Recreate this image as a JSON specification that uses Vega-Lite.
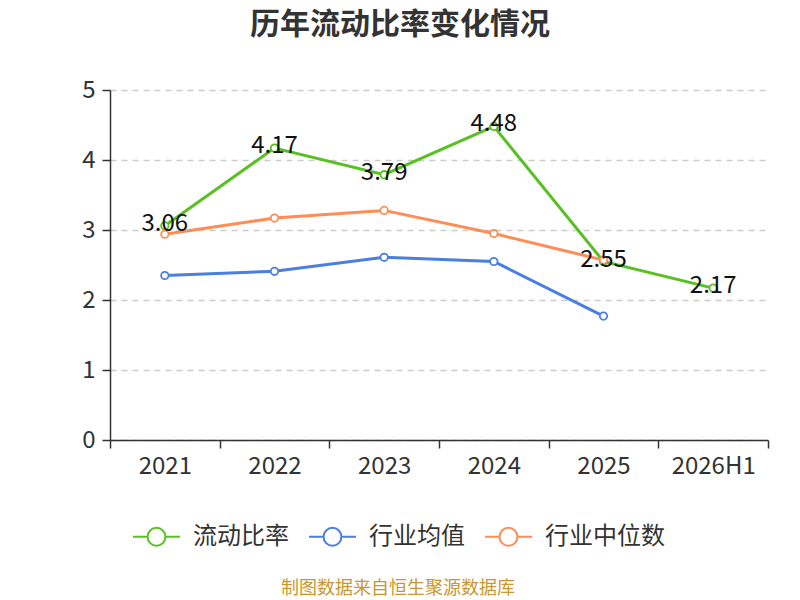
{
  "$schema": "https://vega.github.io/schema/vega-lite/v6.json",
  "width": 658,
  "height": 350,
  "autosize": {"type": "none"},
  "padding": {"left": 110, "top": 90, "right": 32, "bottom": 160},
  "background": "white",
  "title": {
    "text": "历年流动比率变化情况",
    "fontSize": 30,
    "fontWeight": "bold",
    "color": "#333333",
    "font": "Noto Sans CJK SC",
    "anchor": "middle",
    "dx": -39,
    "offset": 38
  },
  "config": {
    "view": {"stroke": null},
    "font": "Noto Sans CJK SC"
  },
  "data": {
    "values": [
      {"year": "2021", "series": "流动比率", "value": 3.06},
      {"year": "2022", "series": "流动比率", "value": 4.17},
      {"year": "2023", "series": "流动比率", "value": 3.79},
      {"year": "2024", "series": "流动比率", "value": 4.48},
      {"year": "2025", "series": "流动比率", "value": 2.55},
      {"year": "2026H1", "series": "流动比率", "value": 2.17},
      {"year": "2021", "series": "行业均值", "value": 2.35},
      {"year": "2022", "series": "行业均值", "value": 2.41},
      {"year": "2023", "series": "行业均值", "value": 2.61},
      {"year": "2024", "series": "行业均值", "value": 2.55},
      {"year": "2025", "series": "行业均值", "value": 1.77},
      {"year": "2021", "series": "行业中位数", "value": 2.94},
      {"year": "2022", "series": "行业中位数", "value": 3.17},
      {"year": "2023", "series": "行业中位数", "value": 3.28},
      {"year": "2024", "series": "行业中位数", "value": 2.95},
      {"year": "2025", "series": "行业中位数", "value": 2.57}
    ]
  },
  "encoding": {
    "x": {
      "field": "year",
      "type": "ordinal",
      "scale": {"type": "band", "paddingInner": 0, "paddingOuter": 0},
      "axis": {
        "title": null,
        "labelAngle": 0,
        "labelFontSize": 24,
        "labelColor": "#333333",
        "labelPadding": 6,
        "tickBand": "extent",
        "tickSize": 8,
        "tickColor": "#333333",
        "tickWidth": 1.5,
        "domainColor": "#333333",
        "domainWidth": 1.5,
        "grid": false
      }
    },
    "y": {
      "field": "value",
      "type": "quantitative",
      "scale": {"domain": [0, 5]},
      "axis": {
        "title": null,
        "values": [0, 1, 2, 3, 4, 5],
        "labelFontSize": 24,
        "labelColor": "#333333",
        "labelPadding": 7,
        "tickSize": 8,
        "tickColor": "#333333",
        "tickWidth": 1.5,
        "domainColor": "#333333",
        "domainWidth": 1.5,
        "grid": true,
        "gridColor": "#cccccc",
        "gridDash": [6, 5],
        "gridWidth": 1.5
      }
    }
  },
  "layer": [
    {
      "mark": {
        "type": "line",
        "strokeWidth": 3,
        "point": {"filled": false, "fill": "white", "size": 55, "strokeWidth": 1.8}
      },
      "encoding": {
        "color": {
          "field": "series",
          "type": "nominal",
          "scale": {
            "domain": ["流动比率", "行业均值", "行业中位数"],
            "range": ["#58c022", "#4a7fe0", "#ff8c55"]
          },
          "legend": {
            "orient": "none",
            "direction": "horizontal",
            "legendX": 22,
            "legendY": 422,
            "title": "制图数据来自恒生聚源数据库",
            "titleOrient": "bottom",
            "titleAnchor": "middle",
            "titleColor": "#c9962f",
            "titleFontSize": 18,
            "titleFontWeight": "normal",
            "titleLimit": 600,
            "titlePadding": 30,
            "labelFontSize": 24,
            "labelColor": "#333333",
            "labelOffset": 12,
            "labelLimit": 300,
            "columnPadding": 16,
            "symbolType": "M-1,0 L-0.38,0 M0.38,0 L1,0 M0.38,0 A0.38,0.38 0 1,1 -0.38,0 A0.38,0.38 0 1,1 0.38,0",
            "symbolSize": 2209,
            "symbolStrokeWidth": 2,
            "symbolFillColor": "white"
          }
        }
      }
    },
    {
      "transform": [{"filter": "datum.series === '流动比率'"}],
      "mark": {"type": "text", "fontSize": 24, "color": "#111111", "dy": -2},
      "encoding": {
        "text": {"field": "value", "type": "quantitative", "format": ".2f"}
      }
    }
  ]
}
